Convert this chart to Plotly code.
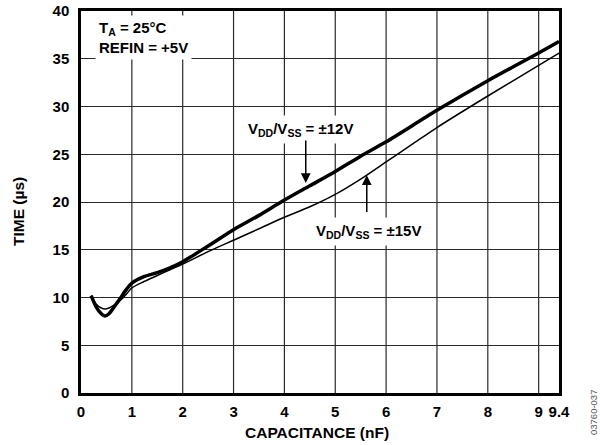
import plotly.graph_objects as go

cap_12 = [0.2, 0.3, 0.4, 0.47, 0.55, 0.65, 0.77, 0.9, 1.0, 1.25, 1.5, 1.75, 2.0, 2.5, 3.0, 3.5, 4.0, 4.5, 5.0, 5.5, 6.0, 7.0, 8.0, 9.0, 9.4]
time_12 = [10.2, 9.0, 8.3, 8.05, 8.3, 9.0, 9.9, 10.9, 11.5, 12.2, 12.6, 13.1, 13.75, 15.4, 17.1, 18.6, 20.2, 21.7, 23.2, 24.8, 26.3, 29.6, 32.7, 35.6, 36.8]
cap_15 = [0.2, 0.3, 0.4, 0.47, 0.55, 0.65, 0.77, 0.9, 1.0, 1.25, 1.5, 1.75, 2.0, 2.5, 3.0, 3.5, 4.0, 4.5, 5.0, 5.5, 6.0, 6.5, 7.0, 8.0, 9.0, 9.4]
time_15 = [10.2, 9.3, 8.9, 8.8, 8.9, 9.2, 9.7, 10.4, 11.0, 11.7, 12.3, 12.9, 13.5, 14.8, 16.0, 17.2, 18.4, 19.5, 20.8, 22.4, 24.2, 26.0, 27.8, 31.1, 34.3, 35.6]

x_ticks = [0, 1, 2, 3, 4, 5, 6, 7, 8, 9, 9.4]
x_tick_labels = ["0", "1", "2", "3", "4", "5", "6", "7", "8", "9", "9.4"]
y_ticks = [0, 5, 10, 15, 20, 25, 30, 35, 40]
grid_x = [1, 2, 3, 4, 5, 6, 7, 8, 9]

FONT = "Liberation Sans, Arial, sans-serif"
TXT = dict(family=FONT, size=15, color="black")

fig = go.Figure()
fig.add_trace(go.Scatter(x=cap_15, y=time_15, mode="lines",
                         line=dict(color="black", width=1.5, shape="spline", smoothing=0.8), showlegend=False))
fig.add_trace(go.Scatter(x=cap_12, y=time_12, mode="lines",
                         line=dict(color="black", width=3.5, shape="spline", smoothing=0.8), showlegend=False))

fig.update_xaxes(
    range=[0, 9.4], tickmode="array", tickvals=x_ticks, ticktext=["<b>%s</b>" % t for t in x_tick_labels],
    showgrid=False, zeroline=False, automargin=False,
    showline=True, linecolor="black", linewidth=2.5, mirror=True,
    ticks="outside", ticklen=3, tickcolor="rgba(0,0,0,0)",
    tickfont=dict(family=FONT, size=15, color="black"),
)
fig.update_yaxes(
    range=[0, 40], tickmode="array", tickvals=y_ticks, ticktext=["<b>%d</b>" % t for t in y_ticks],
    showgrid=True, gridcolor="#2a2a2a", gridwidth=1.2, zeroline=False, automargin=False,
    showline=True, linecolor="black", linewidth=2.5, mirror=True,
    ticks="outside", ticklen=6, tickcolor="rgba(0,0,0,0)",
    tickfont=dict(family=FONT, size=15, color="black"),
)
for xv in grid_x:
    fig.add_shape(type="line", x0=xv, x1=xv, y0=0, y1=40, xref="x", yref="y",
                  line=dict(color="#2a2a2a", width=1.2), layer="below")

# axis titles as annotations
fig.add_annotation(x=(317 - 81) / 478, y=-(432 - 393) / 382, xref="paper", yref="paper",
                   xanchor="center", yanchor="middle",
                   text="<b>CAPACITANCE (nF)</b>", showarrow=False,
                   font=dict(family=FONT, size=15.5, color="black"))
fig.add_annotation(x=-(81 - 18) / 478, y=(393 - 211) / 382, xref="paper", yref="paper",
                   xanchor="center", yanchor="middle",
                   text="<b>TIME (µs)</b>", showarrow=False, textangle=-90,
                   font=dict(family=FONT, size=15.5, color="black"))

fig.add_annotation(x=0.27, y=39.6, xref="x", yref="y", xanchor="left", yanchor="top", align="left",
                   text="<b>T<sub>A</sub> = 25°C<br>REFIN = +5V</b>", showarrow=False,
                   bgcolor="white", borderpad=3, font=TXT)
fig.add_annotation(x=4.31, y=27.6, xref="x", yref="y", text="<b>V<sub>DD</sub>/V<sub>SS</sub> = ±12V</b>",
                   showarrow=False, bgcolor="white", borderpad=4, font=TXT)
fig.add_annotation(x=5.66, y=16.9, xref="x", yref="y", text="<b>V<sub>DD</sub>/V<sub>SS</sub> = ±15V</b>",
                   showarrow=False, bgcolor="white", borderpad=4, font=TXT)
# arrows
fig.add_annotation(x=4.42, y=22.0, ax=4.42, ay=26.6, xref="x", yref="y", axref="x", ayref="y", text="",
                   showarrow=True, arrowhead=2, arrowsize=1.3, arrowwidth=1.5, arrowcolor="black")
fig.add_annotation(x=5.62, y=22.8, ax=5.62, ay=18.8, xref="x", yref="y", axref="x", ayref="y", text="",
                   showarrow=True, arrowhead=2, arrowsize=1.3, arrowwidth=1.5, arrowcolor="black")

fig.add_annotation(x=(593 - 81) / 478, y=-(413 - 393) / 382, xref="paper", yref="paper",
                   xanchor="center", yanchor="middle",
                   text="03760-037", showarrow=False, textangle=-90,
                   font=dict(family=FONT, size=9.5, color="#555"))

fig.update_layout(
    width=600, height=445, margin=dict(l=81, r=41, t=11, b=52),
    plot_bgcolor="white", paper_bgcolor="white",
)
fig.write_html("out.html", config={"displayModeBar": False},
               post_script="document.body.style.margin='0px';")
